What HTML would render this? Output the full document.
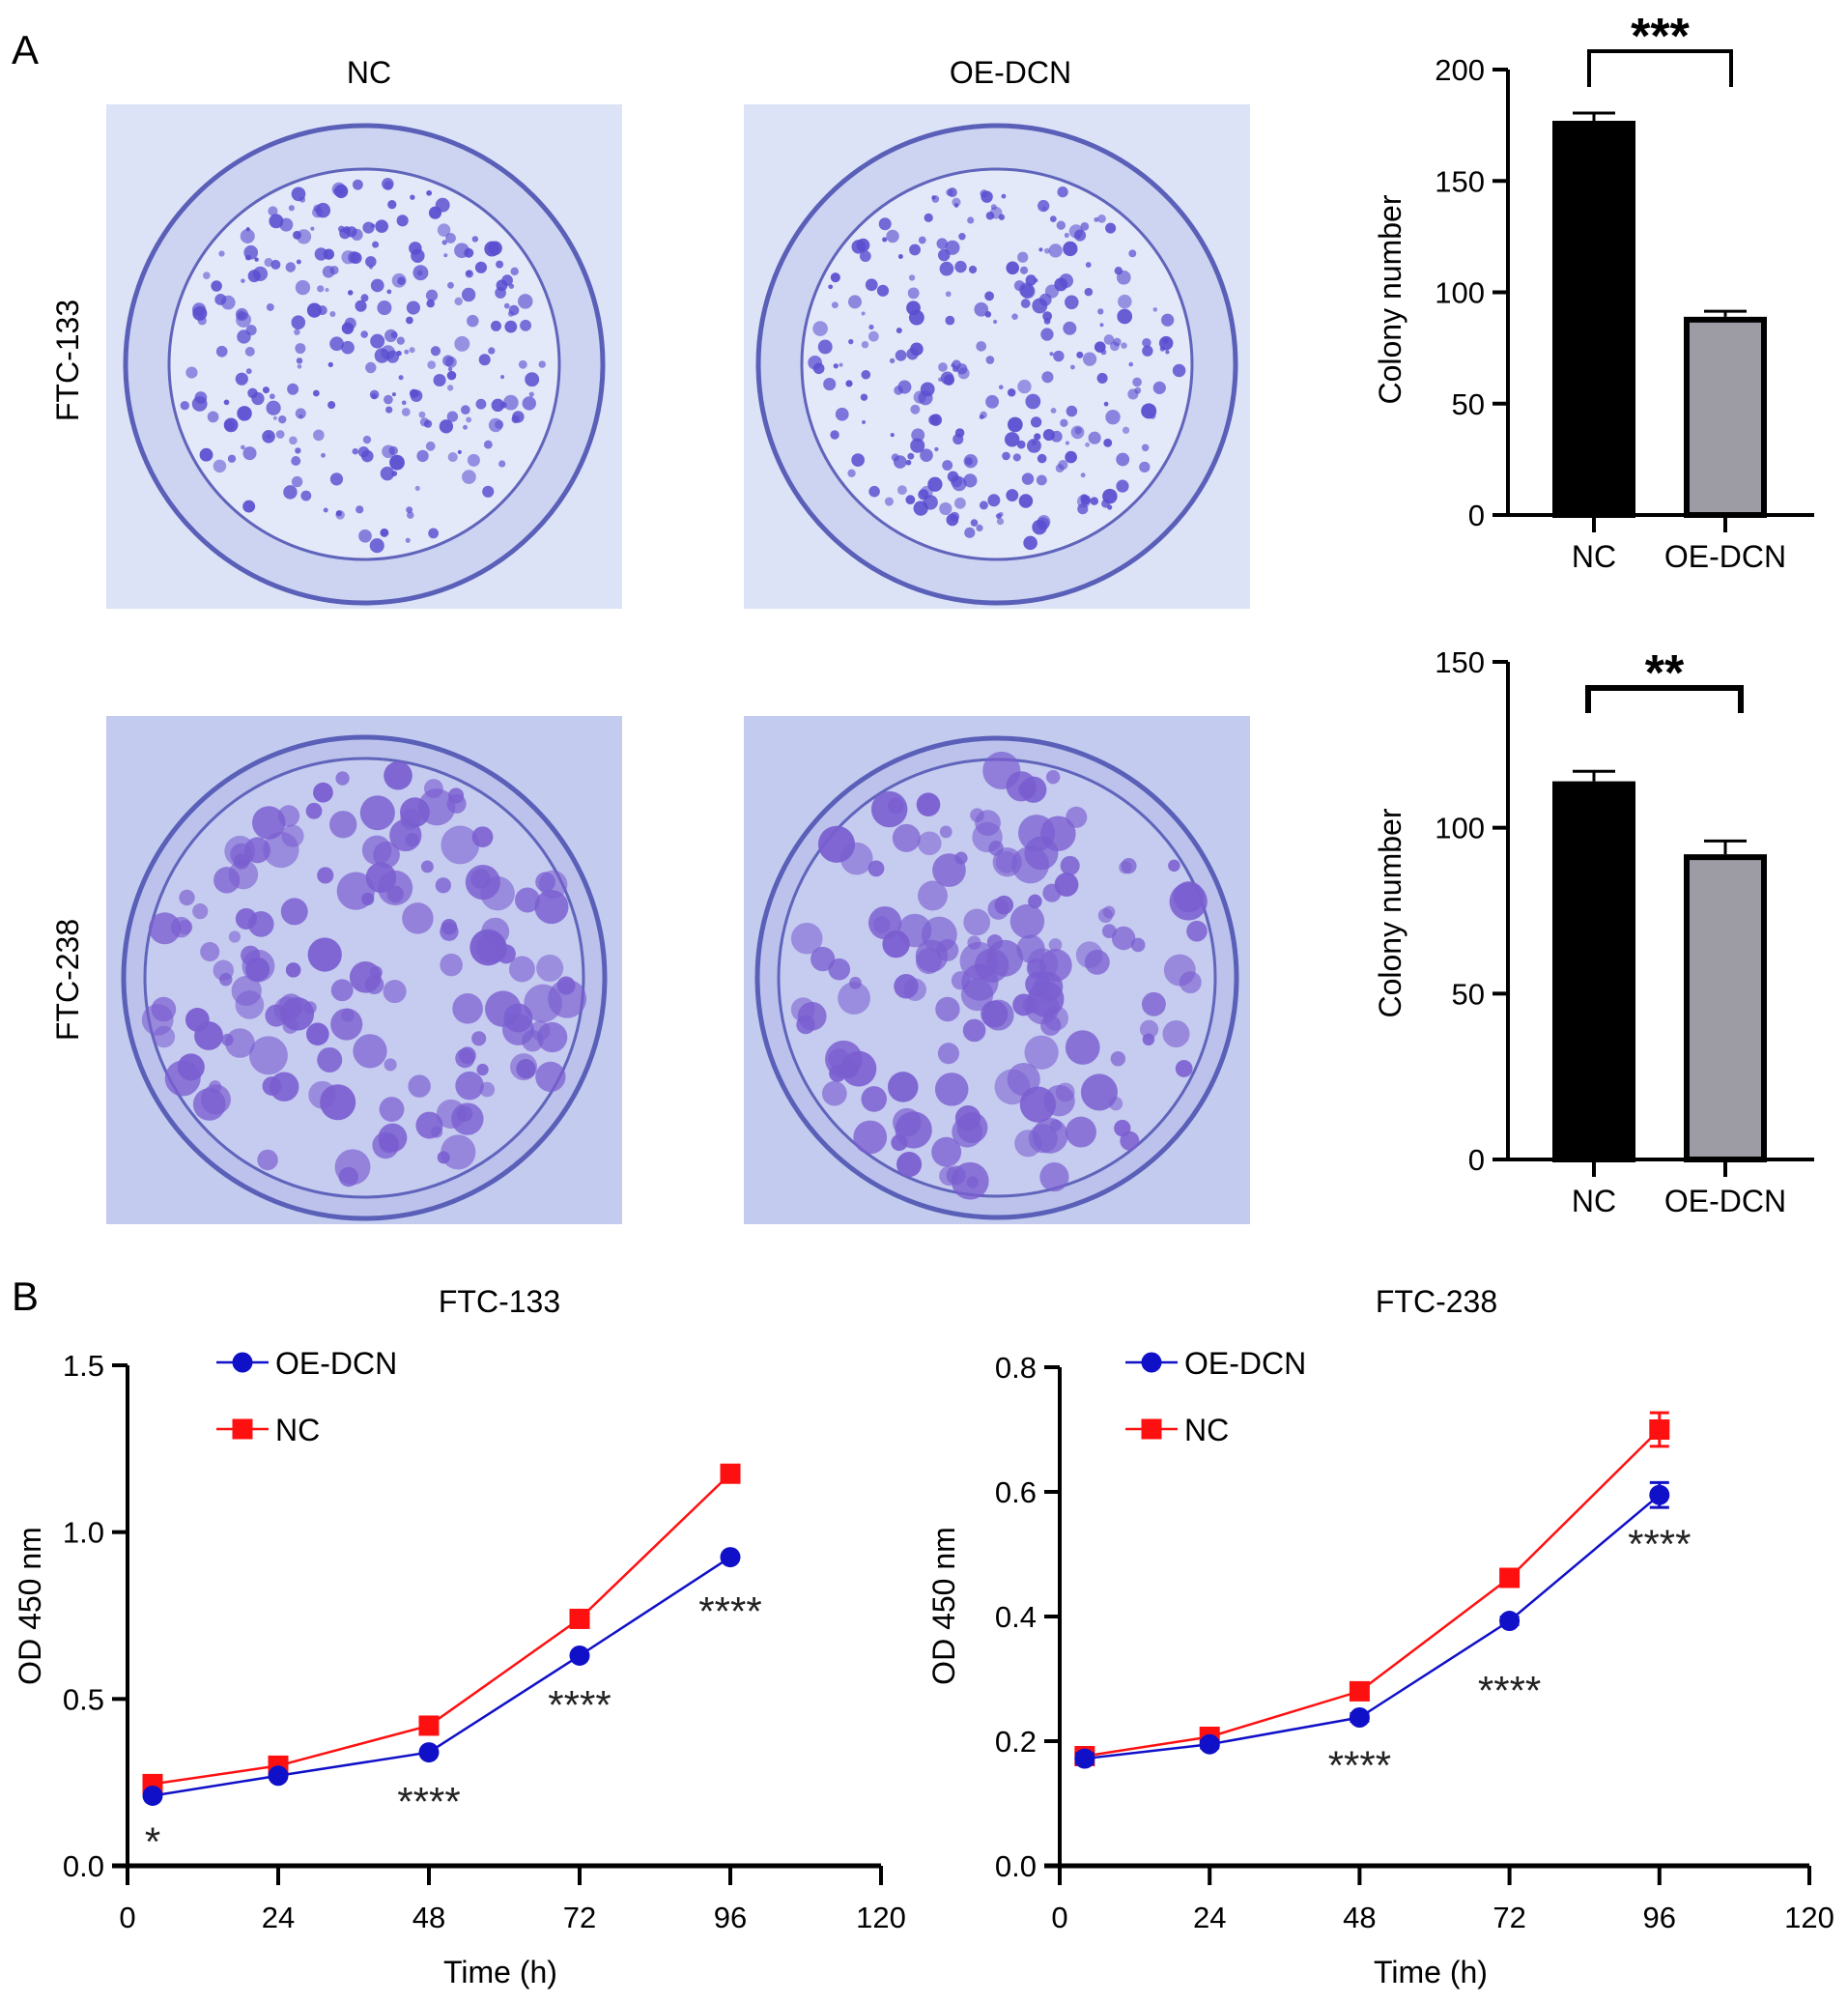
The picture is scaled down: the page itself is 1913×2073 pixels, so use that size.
<!DOCTYPE html>
<html><head><meta charset="utf-8"><style>
html,body{margin:0;padding:0;background:#fff;}
svg{display:block;font-family:"Liberation Sans",Arial,sans-serif;}
</style></head><body>
<svg id="fig" width="1913" height="2073" viewBox="0 0 1913 2073" xmlns="http://www.w3.org/2000/svg">
<text x="12" y="66" font-size="42">A</text>
<text x="12" y="1356" font-size="42">B</text>
<text x="382" y="86" font-size="32" text-anchor="middle">NC</text>
<text x="1046" y="86" font-size="32" text-anchor="middle">OE-DCN</text>
<text transform="translate(81,373) rotate(-90)" font-size="32" text-anchor="middle">FTC-133</text>
<text transform="translate(81,1014) rotate(-90)" font-size="32" text-anchor="middle">FTC-238</text>
<g id="plates"></g>
<g id="bars"></g>
<g id="lines"></g>
</svg>
<script>
// ---- bar chart data ----
const barCats = ['NC','OE-DCN'];
const bar133 = [177, 89];
const bar133Err = [3.5, 2.5];
const bar238 = [114, 92];
const bar238Err = [3, 4];
const barTicks133 = [0,50,100,150,200];
const barTicks238 = [0,50,100,150];
// ---- line chart data ----
const timePts = [4,24,48,72,96];
const xTicks = [0,24,48,72,96,120];
const ftc133OE = [0.21,0.27,0.34,0.63,0.925];
const ftc133NC = [0.245,0.30,0.42,0.74,1.175];
const ftc133Ticks = [0.0,0.5,1.0,1.5];
const ftc133StarTimes = [4,48,72,96];
const ftc133StarVals = [0.08,0.20,0.49,0.77];
const ftc133StarLabels = ['*','****','****','****'];
const ftc238OE = [0.172,0.195,0.238,0.393,0.595];
const ftc238NC = [0.176,0.207,0.28,0.462,0.700];
const ftc238OEErr = [0.008,0.006,0.006,0.006,0.02];
const ftc238NCErr = [0.008,0.006,0.006,0.006,0.027];
const ftc238Ticks = [0.0,0.2,0.4,0.6,0.8];
const ftc238StarTimes = [48,72,96];
const ftc238StarVals = [0.165,0.285,0.52];
const ftc238StarLabels = ['****','****','****'];

const NS='http://www.w3.org/2000/svg';
function mk(tag, attrs, parent, txt){const e=document.createElementNS(NS,tag);for(const k in attrs)e.setAttribute(k,attrs[k]);if(txt!==undefined)e.textContent=txt;parent.appendChild(e);return e;}

// ---- plates (decorative photos) ----
const plates=document.getElementById('plates');
let seed=7;function rnd(){seed=(seed*16807)%2147483647;return seed/2147483647;}
function plate(x0,y0,w,h,name,dark){
  const g=mk('g',{},plates);
  
  
  mk('rect',{x:x0,y:y0,width:w,height:h,fill:dark?'#c3cbef':'#dce3f7'},g);
  const cx=x0+w/2, cy=y0+h/2+8, R=Math.min(w,h)/2-14;
  mk('circle',{cx,cy,r:R,fill:dark?'#bcc2ec':'#cdd4f2',stroke:'#5a5fb8','stroke-width':5},g);
  mk('circle',{cx,cy,r:R-(dark?22:45),fill:dark?'#c6cbf0':'#e4e9f9',stroke:'#6064bb','stroke-width':3},g);
  const n=dark?140:260, ri=R-(dark?30:55);
  for(let i=0;i<n;i++){
    const a=rnd()*Math.PI*2, d=Math.sqrt(rnd())*ri;
    const s=dark?(6+rnd()*14):(2+rnd()*6);
    mk('circle',{cx:cx+Math.cos(a)*d,cy:cy+Math.sin(a)*d,r:s,fill:dark?'#7a5ed0':'#5a4ed0','fill-opacity':0.55+rnd()*0.4},g);
  }
}
plate(110,108,534,522,'plate-ftc133-nc',false);
plate(770,108,524,522,'plate-ftc133-oe-dcn',false);
plate(110,741,534,526,'plate-ftc238-nc',true);
plate(770,741,524,526,'plate-ftc238-oe-dcn',true);

// ---- bar charts ----
const bars=document.getElementById('bars');
function barChart(cfg){
  const g=mk('g',{},bars);
  
  
  const y=v=>cfg.y0-(v/cfg.max)*(cfg.y0-cfg.yTop);
  const ax=1561, xEnd=1878, centers=[1650,1786], bw=86;
  mk('line',{x1:ax,y1:y(cfg.max),x2:ax,y2:cfg.y0,stroke:'#000','stroke-width':4},g);
  mk('line',{x1:ax-16,y1:cfg.y0,x2:xEnd,y2:cfg.y0,stroke:'#000','stroke-width':4},g);
  cfg.ticks.forEach(t=>{
    const tk=mk('line',{x1:ax-16,y1:y(t),x2:ax,y2:y(t),stroke:'#000','stroke-width':4},g);
    
    
    const tl=mk('text',{x:ax-24,y:y(t)+11,'font-size':31,'text-anchor':'end'},g,String(t));
    
    
  });
  cfg.vals.forEach((v,i)=>{
    const c=centers[i];
    mk('line',{x1:c,y1:y(v),x2:c,y2:y(v+cfg.err[i]),stroke:'#000','stroke-width':3},g);
    mk('line',{x1:c-22,y1:y(v+cfg.err[i]),x2:c+22,y2:y(v+cfg.err[i]),stroke:'#000','stroke-width':3},g);
    const r=mk('rect',{x:c-bw/2+3,y:y(v)+3,width:bw-6,height:cfg.y0-y(v)-3,fill:i===0?'#000':'#9d9ca4',stroke:'#000','stroke-width':6},g);
    
    
    mk('line',{x1:c,y1:cfg.y0,x2:c,y2:cfg.y0+18,stroke:'#000','stroke-width':4},g);
    const lb=mk('text',{x:c,y:cfg.y0+54,'font-size':32,'text-anchor':'middle'},g,barCats[i]);
    
    
  });
  const yt=mk('text',{transform:`translate(1450,${cfg.titleY}) rotate(-90)`,'font-size':32,'text-anchor':'middle'},g,'Colony number');
  
  
  const br=mk('path',{d:`M${cfg.bl},${cfg.bd} V${cfg.by} H${cfg.brx} V${cfg.bd}`,fill:'none',stroke:'#000','stroke-width':cfg.bsw},g);
  
  
  const st=mk('text',{x:(cfg.bl+cfg.brx)/2,y:cfg.by+2,'font-size':52,'font-weight':'bold','text-anchor':'middle'},g,cfg.stars);
  
  
}
barChart({name:'bar-chart-ftc133',vals:bar133,err:bar133Err,ticks:barTicks133,max:200,y0:533,yTop:72,titleY:310,bl:1645,brx:1792,by:53,bd:90,bsw:4,stars:'***'});
barChart({name:'bar-chart-ftc238',vals:bar238,err:bar238Err,ticks:barTicks238,max:150,y0:1200,yTop:685,titleY:945,bl:1644,brx:1802,by:712,bd:738,bsw:6,stars:'**'});

// ---- line charts ----
const lines=document.getElementById('lines');
function lineChart(cfg){
  const g=mk('g',{},lines);
  
  
  const X=t=>cfg.ax+(t/120)*(cfg.xEnd-cfg.ax);
  const Y=v=>cfg.y0-(v/cfg.max)*(cfg.y0-cfg.yTop);
  mk('line',{x1:cfg.ax,y1:Y(cfg.max),x2:cfg.ax,y2:cfg.y0+20,stroke:'#000','stroke-width':4},g);
  mk('line',{x1:cfg.ax-16,y1:cfg.y0,x2:cfg.xEnd,y2:cfg.y0,stroke:'#000','stroke-width':5},g);
  cfg.yTicks.forEach(t=>{
    mk('line',{x1:cfg.ax-16,y1:Y(t),x2:cfg.ax,y2:Y(t),stroke:'#000','stroke-width':4},g);
    const tl=mk('text',{x:cfg.ax-24,y:Y(t)+11,'font-size':31,'text-anchor':'end'},g,t.toFixed(1));
    
    
  });
  xTicks.forEach(t=>{
    mk('line',{x1:X(t),y1:cfg.y0,x2:X(t),y2:cfg.y0+20,stroke:'#000','stroke-width':4},g);
    const tl=mk('text',{x:X(t),y:cfg.y0+64,'font-size':31,'text-anchor':'middle'},g,String(t));
    
    
  });
  const xt=mk('text',{x:(cfg.ax+cfg.xEnd)/2-4,y:2052,'font-size':32,'text-anchor':'middle'},g,'Time (h)');
  
  
  const yt=mk('text',{transform:`translate(${cfg.yTitleX},1662) rotate(-90)`,'font-size':32,'text-anchor':'middle'},g,'OD 450 nm');
  
  
  const tt=mk('text',{x:cfg.titleX,y:1358,'font-size':32,'text-anchor':'middle'},g,cfg.title);
  
  
  function series(vals,errs,color,shape,nm){
    const sg=mk('g',{},g);
    
    
    mk('polyline',{points:vals.map((v,i)=>X(timePts[i])+','+Y(v)).join(' '),fill:'none',stroke:color,'stroke-width':2.5},sg);
    vals.forEach((v,i)=>{
      const cx=X(timePts[i]),cy=Y(v);
      if(errs){const e=errs[i];
        mk('line',{x1:cx,y1:Y(v+e),x2:cx,y2:Y(v-e),stroke:color,'stroke-width':3},sg);
        mk('line',{x1:cx-10,y1:Y(v+e),x2:cx+10,y2:Y(v+e),stroke:color,'stroke-width':3},sg);
        mk('line',{x1:cx-10,y1:Y(v-e),x2:cx+10,y2:Y(v-e),stroke:color,'stroke-width':3},sg);}
      let m;
      if(shape==='c') m=mk('circle',{cx,cy,r:10.5,fill:color},sg);
      else m=mk('rect',{x:cx-10.5,y:cy-10.5,width:21,height:21,fill:color},sg);
      
      
    });
  }
  series(cfg.nc,cfg.ncErr,'#ff1010','s','series-nc');
  series(cfg.oe,cfg.oeErr,'#1010c8','c','series-oe-dcn');
  cfg.starT.forEach((t,i)=>{
    const s=mk('text',{x:X(t),y:Y(cfg.starV[i])+17,'font-size':42,'text-anchor':'middle','fill':'#222'},g,cfg.starL[i]);
    
    
  });
  const lg=mk('g',{},g);
  
  
  const lx=cfg.legX;
  mk('line',{x1:lx-27,y1:1410,x2:lx+27,y2:1410,stroke:'#1010c8','stroke-width':2.5},lg);
  mk('circle',{cx:lx,cy:1410,r:10.5,fill:'#1010c8'},lg);
  const l1=mk('text',{x:lx+34,y:1422,'font-size':32},lg,'OE-DCN');
  
  
  mk('line',{x1:lx-27,y1:1479,x2:lx+27,y2:1479,stroke:'#ff1010','stroke-width':2.5},lg);
  mk('rect',{x:lx-10.5,y:1468.5,width:21,height:21,fill:'#ff1010'},lg);
  const l2=mk('text',{x:lx+34,y:1491,'font-size':32},lg,'NC');
  
  
}
lineChart({name:'line-chart-ftc133',title:'FTC-133',titleX:517,ax:132,xEnd:912,y0:1931,yTop:1413,max:1.5,yTicks:ftc133Ticks,oe:ftc133OE,nc:ftc133NC,oeErr:null,ncErr:null,starT:ftc133StarTimes,starV:ftc133StarVals,starL:ftc133StarLabels,legX:251,yTitleX:42});
lineChart({name:'line-chart-ftc238',title:'FTC-238',titleX:1487,ax:1097,xEnd:1873,y0:1931,yTop:1415,max:0.8,yTicks:ftc238Ticks,oe:ftc238OE,nc:ftc238NC,oeErr:ftc238OEErr,ncErr:ftc238NCErr,starT:ftc238StarTimes,starV:ftc238StarVals,starL:ftc238StarLabels,legX:1192,yTitleX:988});
</script>
</body></html>
